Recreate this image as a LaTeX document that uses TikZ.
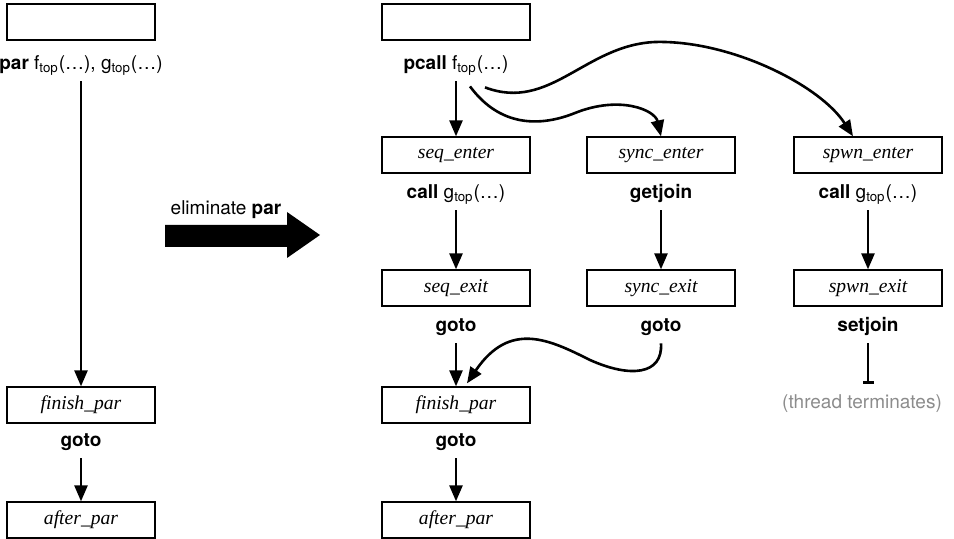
\documentclass[tikz,border=0pt]{standalone}
\usepackage{fontspec}
\setmainfont{TeX Gyre Heros}
\newfontfamily\boxfont{Liberation Serif}
\usepackage{xcolor}
\usepackage{tikz}
\usetikzlibrary{arrows.meta}
\definecolor{termgray}{gray}{0.55}

\begin{document}
\begin{tikzpicture}[x=0.5pt,y=-0.5pt,
    blk/.style={draw,line width=0.65pt,minimum width=74pt,minimum height=18pt,inner sep=0pt,font=\fontsize{9.8}{11}\boxfont\itshape},
    lbl/.style={font=\fontsize{9.5}{11}\selectfont,anchor=base,inner xsep=0pt,inner ysep=3pt,text height=7pt,text depth=2.5pt},
    flow/.style={line width=1.3pt,-{Triangle[length=8pt,width=6.5pt]}}]
    \useasboundingbox (0,0) rectangle (954,539);

    \node[blk] (ltop) at (81,22) {};
    \node[lbl] (lpar) at (81,70) {\textbf{par} f\textsubscript{top}(\dots), g\textsubscript{top}(\dots)};
    \node[blk] (lfin) at (81,405) {finish\_par};
    \node[lbl] (lgoto) at (81,447) {\textbf{goto}};
    \node[blk] (laft) at (81,520) {after\_par};

    \fill (165,225) -- (287,225) -- (287,212) -- (320,235) -- (287,258) -- (287,247) -- (165,247) -- cycle;
    \node[lbl] (elim) at (226,215) {eliminate \textbf{par}};

    \node[blk] (rtop) at (456,22) {};
    \node[lbl] (pcall) at (456,70) {\textbf{pcall} f\textsubscript{top}(\dots)};
    \node[blk] (seqen) at (456,155) {seq\_enter};
    \node[lbl] (seqcall) at (456,199) {\textbf{call} g\textsubscript{top}(\dots)};
    \node[blk] (seqex) at (456,288) {seq\_exit};
    \node[lbl] (seqgoto) at (456,332) {\textbf{goto}};
    \node[blk] (rfin) at (456,405) {finish\_par};
    \node[lbl] (rgoto) at (456,447) {\textbf{goto}};
    \node[blk] (raft) at (456,520) {after\_par};

    \node[blk] (syncen) at (661,155) {sync\_enter};
    \node[lbl] (getjoin) at (661,199) {\textbf{getjoin}};
    \node[blk] (syncex) at (661,288) {sync\_exit};
    \node[lbl] (syncgoto) at (661,332) {\textbf{goto}};

    \node[blk] (spwnen) at (868,155) {spwn\_enter};
    \node[lbl] (spwncall) at (868,199) {\textbf{call} g\textsubscript{top}(\dots)};
    \node[blk] (spwnex) at (868,288) {spwn\_exit};
    \node[lbl] (setjoin) at (868,332) {\textbf{setjoin}};
    \node[lbl,text=termgray] (term) at (862,409) {(thread terminates)};

    \draw[flow] (lpar) -- (lfin);
    \draw[flow] (lgoto) -- (laft);

    \draw[flow] (pcall) -- (seqen);
    \draw[flow] ([shift={(14,5)}]pcall.south) .. controls (500,127) and (540,127) .. (575,113) .. controls (620,95) and (655,110) .. (syncen.north);
    \draw[flow] ([shift={(29,6)}]pcall.south) .. controls (550,112) and (585,45) .. (655,42) .. controls (730,40) and (820,85) .. ([shift={(-15,0)}]spwnen.north);
    \draw[flow] (seqcall) -- (seqex);
    \draw[flow] (getjoin) -- (syncex);
    \draw[flow] (spwncall) -- (spwnex);
    \draw[flow] (seqgoto) -- (rfin);
    \draw[flow] (syncgoto.south) .. controls (663,375) and (630,378) .. (590,360) .. controls (550,340) and (510,320) .. ([shift={(11,-3)}]rfin.north);
    \draw[flow] (rgoto) -- (raft);
    \draw[line width=1.3pt,-{Bar[width=5.5pt]},shorten >=2.5pt] (setjoin) -- (setjoin |- term.north);
\end{tikzpicture}
\end{document}
